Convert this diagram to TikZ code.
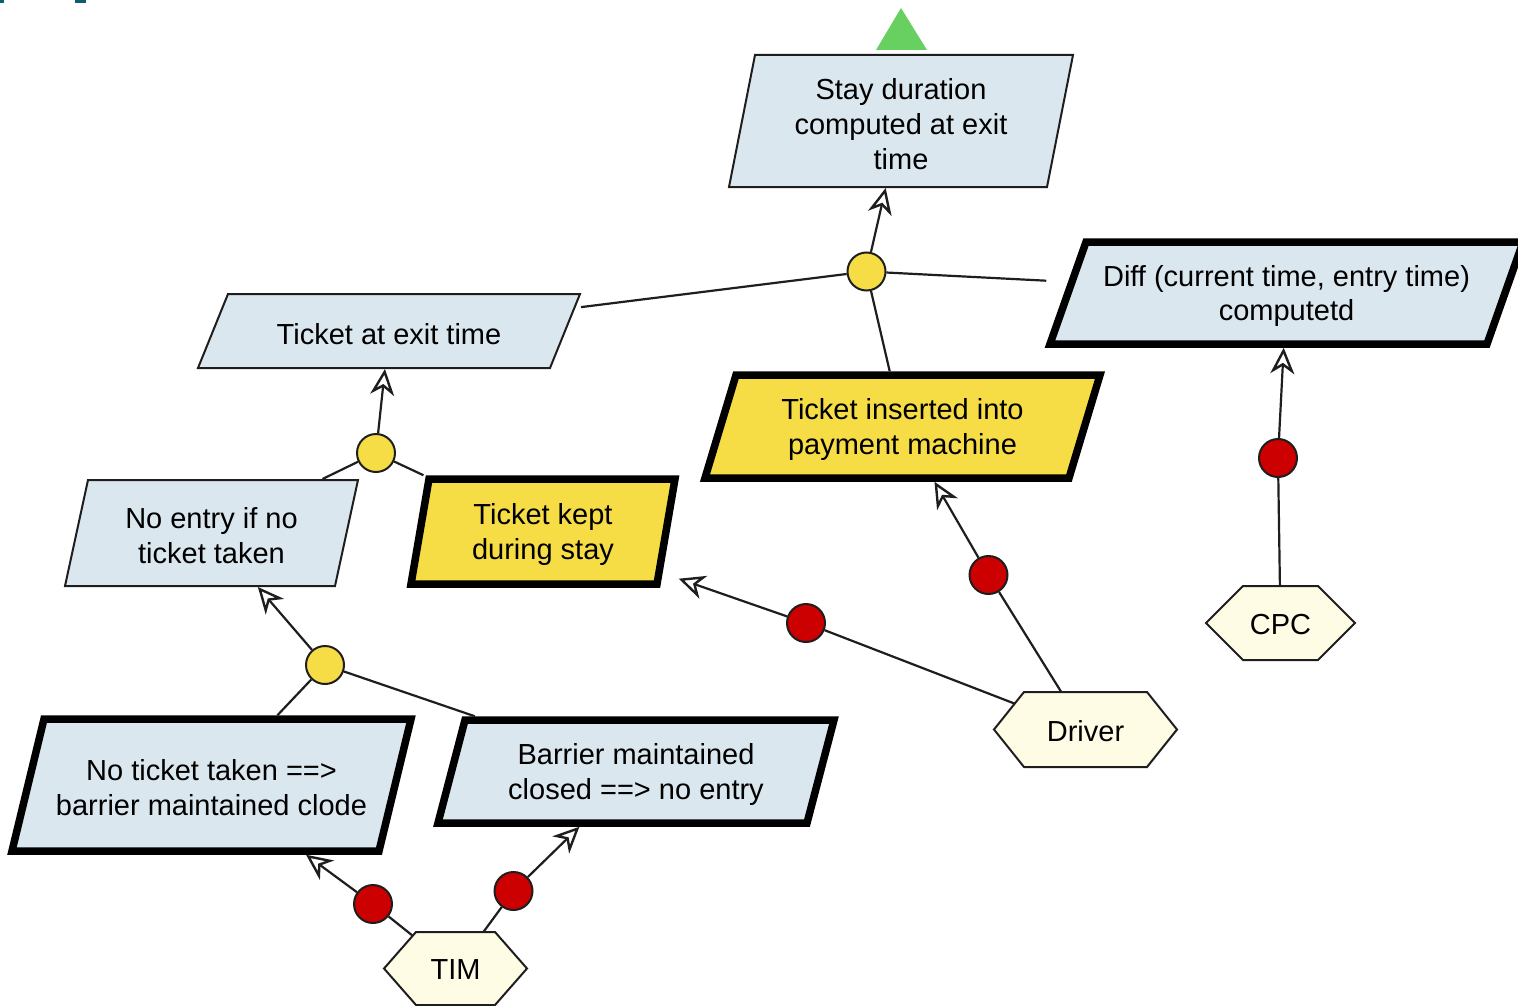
\documentclass[tikz,border=0pt]{standalone}
\usepackage{fontspec}
\setmainfont{Liberation Sans}
\usetikzlibrary{arrows.meta,calc}

\definecolor{boxblue}{RGB}{219,231,238}
\definecolor{boxyellow}{RGB}{246,221,70}
\definecolor{hexfill}{RGB}{255,252,230}
\definecolor{dotred}{RGB}{204,0,0}
\definecolor{goalgreen}{RGB}{104,208,96}
\definecolor{edgegray}{RGB}{30,30,30}
\definecolor{markteal}{RGB}{13,94,111}

\pgfdeclarelayer{bg}
\pgfsetlayers{bg,main}

\tikzset{
  thinblue/.style={fill=boxblue, draw=edgegray, line width=2pt, line join=miter},
  thickblue/.style={fill=boxblue, draw=black, line width=7.5pt, line join=miter},
  thickyellow/.style={fill=boxyellow, draw=black, line width=7.5pt, line join=miter},
  hexbox/.style={fill=hexfill, draw=edgegray, line width=2pt, line join=miter},
  boxframe/.style={inner sep=0pt},
  boxlabel/.style={inner sep=0pt, align=center, text=black,
    font=\fontsize{29}{35}\selectfont},
  andnode/.style={circle, draw=edgegray, line width=2pt, fill=boxyellow,
    minimum size=38pt, inner sep=0pt},
  ornode/.style={circle, draw=edgegray, line width=2pt, fill=dotred,
    minimum size=38pt, inner sep=0pt},
  conn/.style={draw=edgegray, line width=2.2pt},
  arr/.style={-{Stealth[length=26pt 0, width=24pt 0, inset=8pt 0, fill=white, line width=2.4pt]}},
}

% parallelogram: style, outer sep, name, cx, cy, edge length, height, skew, text
\newcommand\pgram[9]{%
  \path[#1] ({#4-(#6+#8)/2+#8},{#5-#7/2}) -- ({#4+(#6+#8)/2},{#5-#7/2})
    -- ({#4+(#6+#8)/2-#8},{#5+#7/2}) -- ({#4-(#6+#8)/2},{#5+#7/2}) -- cycle;
  \node[boxframe, outer sep=#2, minimum width={#6+#8}, minimum height={#7}]
    (#3) at (#4,#5) {};
  \node[boxlabel] (#3-text) at (#4,{#5+3}) {#9};
}

% hexagon: name, cx, cy, width, height, inset, text
\newcommand\hexa[7]{%
  \path[hexbox] ({#2-#4/2},#3) -- ({#2-#4/2+#6},{#3-#5/2})
    -- ({#2+#4/2-#6},{#3-#5/2}) -- ({#2+#4/2},#3)
    -- ({#2+#4/2-#6},{#3+#5/2}) -- ({#2-#4/2+#6},{#3+#5/2}) -- cycle;
  \node[boxlabel] (#1) at (#2,{#3+1.5}) {#7};
}

\begin{document}
\begin{tikzpicture}[x=1pt, y=-1pt]
  \useasboundingbox (0,0) rectangle (1518,1006);

  % small marks along the top edge
  \fill[markteal] (0,0) rectangle (4,3);
  \fill[markteal] (75,0) rectangle (86,3);

  % goal marker
  \fill[goalgreen] (901,8) -- (927,50) -- (876,50) -- cycle;

  % goals and requirements
  \pgram{thinblue}{1pt}{stay}{901}{121}{318}{132}{26}{Stay duration\\computed at exit\\time}
  \pgram{thinblue}{1pt}{exittick}{389}{331}{352}{74}{30}{Ticket at exit time}
  \pgram{thickblue}{3.75pt}{diff}{1286.5}{293}{437}{102}{36}{Diff (current time, entry time)\\computetd}
  \pgram{thickyellow}{3.75pt}{inserted}{902.5}{426.5}{364}{103}{31}{Ticket inserted into\\payment machine}
  \pgram{thinblue}{1pt}{noentry}{211.5}{533}{270}{106}{23}{No entry if no\\ticket taken}
  \pgram{thickyellow}{3.75pt}{kept}{543}{531.5}{246}{105}{18}{Ticket kept\\during stay}
  \pgram{thickblue}{3.75pt}{noticket}{211.5}{785}{367}{132}{32}{No ticket taken ==>\\barrier maintained clode}
  \pgram{thickblue}{3.75pt}{barrier}{636}{771.5}{369}{103}{27}{Barrier maintained\\closed ==> no entry}

  % agents
  \hexa{tim}{455.5}{968.5}{143}{73}{32}{TIM}
  \hexa{driver}{1085.5}{729.5}{183}{75}{30}{Driver}
  \hexa{cpc}{1280.5}{623}{149}{74}{37}{CPC}

  % refinement junctions
  \node[andnode] (j1) at (866.5,271.5) {};
  \node[andnode] (j2) at (376,453) {};
  \node[andnode] (j3) at (325,665) {};

  % responsibility links
  \node[ornode] (r1) at (373,904) {};
  \node[ornode] (r2) at (513.5,891) {};
  \node[ornode] (r3) at (806,623) {};
  \node[ornode] (r4) at (988.5,575) {};
  \node[ornode] (r5) at (1278,458) {};

  % agent links start under the agent shapes
  \begin{pgfonlayer}{bg}
    \draw[conn] (tim.center) -- (r1);
    \draw[conn] (tim.center) -- (r2);
    \draw[conn] (driver.center) -- (r3);
    \draw[conn] (driver.center) -- (r4);
    \draw[conn] (cpc.center) -- (r5);
  \end{pgfonlayer}

  \draw[conn, arr] (r1) -- (noticket);
  \draw[conn, arr] (r2) -- (barrier);
  \draw[conn, arr] (r3) -- (kept);
  \draw[conn, arr] (r4) -- (inserted);
  \draw[conn, arr] (r5) -- (diff);

  % refinements
  \draw[conn, arr] (j1) -- (stay);
  \draw[conn] (j1) -- (exittick);
  \draw[conn] (j1) -- (diff);
  \draw[conn] (j1) -- (inserted);

  \draw[conn, arr] (j2) -- (exittick);
  \draw[conn] (j2) -- (noentry);
  \draw[conn] (j2) -- (kept);

  \draw[conn, arr] (j3) -- (noentry);
  \draw[conn] (j3) -- (noticket);
  \draw[conn] (j3) -- (barrier);
\end{tikzpicture}
\end{document}
